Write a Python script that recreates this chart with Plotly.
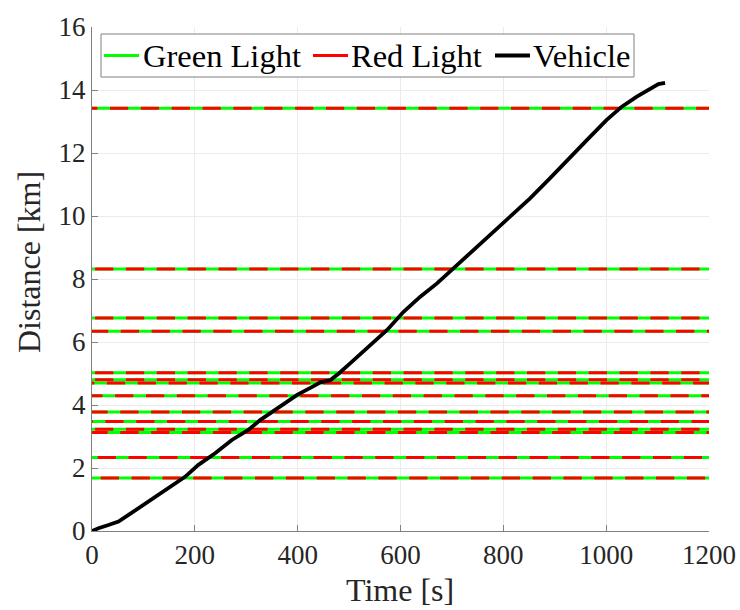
import plotly.graph_objects as go

# ---- data ----
light_dist_km = [1.68, 2.33, 3.13, 3.23, 3.48, 3.78, 4.29, 4.70, 4.80, 5.02, 6.34, 6.76, 8.32, 13.42]
light_red_start_s = [17, 11, 55, 6, 26, 55, 45, 29, 6, 6, 56, 6, 6, 35]
cycle_s = 60.0
red_dur_s = 35.5

veh_t = [0, 12.6, 32, 51.5, 71, 110, 149, 181, 207, 239.5, 272, 304, 327, 366, 399, 431, 444,
         463.5, 480, 502, 535, 564, 574, 606, 638.5, 671, 703, 742, 774.5, 813, 852, 891, 930,
         969, 1001, 1030.5, 1059.6, 1085.5, 1101.6, 1114.6]
veh_d = [0, 0.09, 0.19, 0.30, 0.51, 0.93, 1.36, 1.72, 2.10, 2.47, 2.89, 3.21, 3.52, 3.97, 4.32,
         4.60, 4.72, 4.79, 5.00, 5.32, 5.80, 6.22, 6.38, 6.96, 7.44, 7.86, 8.34, 8.92, 9.40, 9.98,
         10.56, 11.20, 11.88, 12.52, 13.05, 13.47, 13.79, 14.05, 14.19, 14.23]

legend_names = ["Green Light", "Red Light", "Vehicle"]

x_ticks = [0, 200, 400, 600, 800, 1000, 1200]
y_ticks = [0, 2, 4, 6, 8, 10, 12, 14, 16]
x_range = [0, 1200]
y_range = [0, 16]

# ---- layout geometry ----
W, H = 740, 610
ML, MR, MT, MB = 92, 31, 27, 79
plot_w = W - ML - MR
plot_h = H - MT - MB
px_per_s = plot_w / (x_range[1] - x_range[0])
red_px = round(red_dur_s * px_per_s, 2)
green_px = round((cycle_s - red_dur_s) * px_per_s, 2)
dash = f"{red_px}px,{green_px}px"

GREEN = "#00ff00"
RED = "#ff0000"
TXT = "#262626"
FONT = "Liberation Serif"


def pxx(px):
    return (px - ML) / plot_w


def pxy(py):
    return (H - MB - py) / plot_h


fig = go.Figure()

for d in light_dist_km:
    fig.add_trace(go.Scatter(x=[x_range[0], x_range[1]], y=[d, d], mode="lines",
                             line=dict(color=GREEN, width=3), showlegend=False, hoverinfo="skip"))
for d, ph in zip(light_dist_km, light_red_start_s):
    fig.add_trace(go.Scatter(x=[ph - cycle_s, x_range[1]], y=[d, d], mode="lines",
                             line=dict(color=RED, width=3, dash=dash), showlegend=False,
                             hoverinfo="skip"))

fig.add_trace(go.Scatter(x=veh_t, y=veh_d, mode="lines", name="Vehicle", showlegend=False,
                         line=dict(color="black", width=3.8)))

# ---- legend box drawn in paper coordinates ----
shapes = [dict(type="rect", xref="paper", yref="paper",
               x0=pxx(101), x1=pxx(634), y0=pxy(77), y1=pxy(34),
               line=dict(color="#808080", width=1), fillcolor="white", layer="above")]
annotations = []
leg_y = 55.5
items = [(GREEN, 3, 104, 139, 142), (RED, 3, 313, 348, 350), ("black", 4, 495, 530, 532)]
for name, (col, lw, lx0, lx1, tx) in zip(legend_names, items):
    shapes.append(dict(type="line", xref="paper", yref="paper",
                       x0=pxx(lx0), x1=pxx(lx1), y0=pxy(leg_y), y1=pxy(leg_y),
                       line=dict(color=col, width=lw), layer="above"))
    annotations.append(dict(xref="paper", yref="paper", x=pxx(tx), y=pxy(leg_y),
                            text=name, showarrow=False, xanchor="left", yanchor="middle",
                            font=dict(family=FONT, size=32.5, color="black"), borderpad=0))

# axis titles as annotations for exact placement
annotations.append(dict(xref="paper", yref="paper", x=pxx(400), y=pxy(590), text="Time [s]",
                        showarrow=False, xanchor="center", yanchor="middle",
                        font=dict(family=FONT, size=32, color=TXT)))
annotations.append(dict(xref="paper", yref="paper", x=pxx(29), y=pxy(262), text="Distance [km]",
                        showarrow=False, xanchor="center", yanchor="middle", textangle=-90,
                        font=dict(family=FONT, size=32, color=TXT)))

axis_common = dict(
    showgrid=True, gridcolor="#ebebeb", gridwidth=1,
    showline=True, linecolor="#808080", linewidth=1,
    ticks="inside", ticklen=6, tickcolor="#808080",
    zeroline=False, automargin=False,
    tickfont=dict(family=FONT, size=27, color=TXT),
)

fig.update_layout(
    width=W, height=H,
    margin=dict(l=ML, r=MR, t=MT, b=MB, autoexpand=False),
    paper_bgcolor="white", plot_bgcolor="white",
    font=dict(family=FONT, color=TXT),
    xaxis=dict(range=x_range, tickvals=x_ticks, **axis_common),
    yaxis=dict(range=y_range, tickvals=y_ticks, **axis_common),
    shapes=shapes,
    annotations=annotations,
    showlegend=False,
)

fig.write_html("out.html")
